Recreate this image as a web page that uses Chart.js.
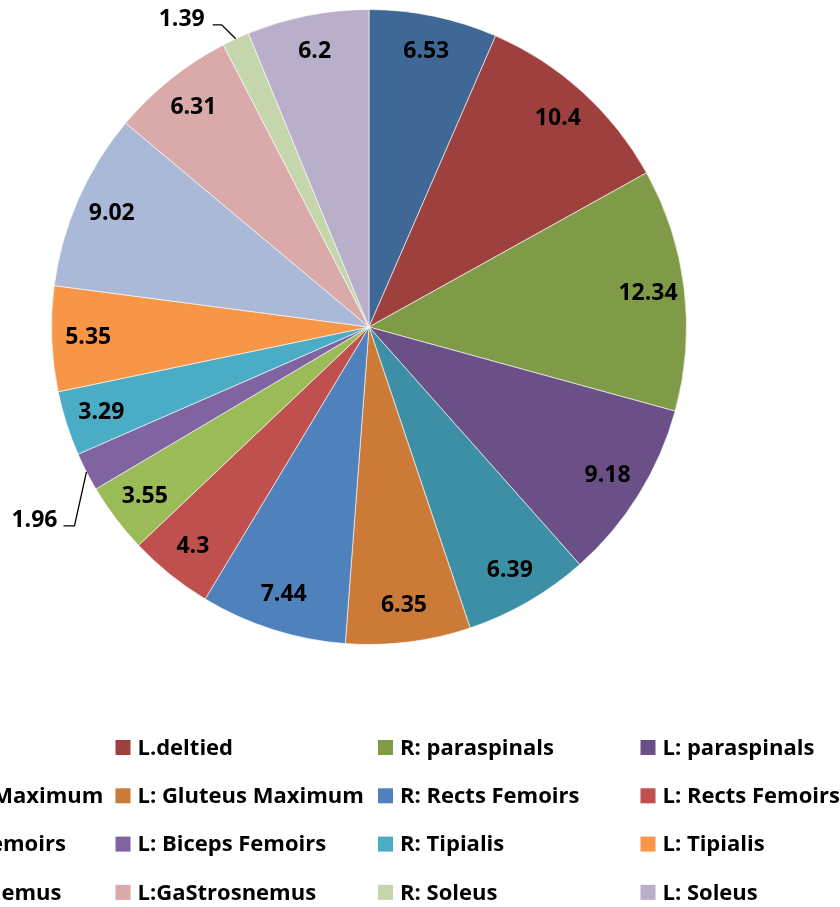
<!DOCTYPE html>
<html>
<head>
<meta charset="utf-8">
<script src="https://cdn.jsdelivr.net/npm/chart.js@4/dist/chart.umd.min.js"></script>
<style>
  html, body { margin: 0; padding: 0; background: #ffffff; overflow: hidden; }
  #wrap { position: relative; width: 840px; height: 907px; }
</style>
</head>
<body>
<div id="wrap"><canvas id="chart" width="840" height="907"></canvas></div>
<script>
// Muscle groups, clockwise from 12 o'clock
const muscles = [
  'R.deltied', 'L.deltied', 'R: paraspinals', 'L: paraspinals',
  'R: Gluteus Maximum', 'L: Gluteus Maximum', 'R: Rects Femoirs', 'L: Rects Femoirs',
  'R: Biceps Femoirs', 'L: Biceps Femoirs', 'R: Tipialis', 'L: Tipialis',
  'R: GaStrosnemus', 'L:GaStrosnemus', 'R: Soleus', 'L: Soleus'
];
const shares = [6.53, 10.4, 12.34, 9.18, 6.39, 6.35, 7.44, 4.3, 3.55, 1.96, 3.29, 5.35, 9.02, 6.31, 1.39, 6.2];
const sliceColors = [
  '#3F6897', '#9E413E', '#809B48', '#6A5087', '#3D8FA5', '#CC7A37',
  '#4F81BD', '#C0504D', '#9BBB59', '#8064A2', '#4BACC6', '#F79646',
  '#AAB9D7', '#D9AAA9', '#C6D6AC', '#B9AFCB'
];

const FONT = '"Open Sans", Lato, sans-serif';

// Leader-line geometry for the thin slices whose labels sit outside the pie
const outsideLabels = {
  9:  { elbowDx: -12, elbowDy: 54, seg: 11, gap: 6 },
  14: { elbowDx: -14, elbowDy: -14, seg: 9, gap: 8 }
};

const sliceLabels = {
  id: 'sliceLabels',
  afterDatasetsDraw(chart) {
    const ctx = chart.ctx;
    const meta = chart.getDatasetMeta(0);
    const values = chart.data.datasets[0].data;
    ctx.save();
    ctx.font = 'bold 23px ' + FONT;
    ctx.fillStyle = '#000000';
    meta.data.forEach((arc, i) => {
      const p = arc.getProps(['x', 'y', 'startAngle', 'endAngle', 'outerRadius'], true);
      const mid = (p.startAngle + p.endAngle) / 2;
      const text = String(values[i]);
      const out = outsideLabels[i];
      if (out) {
        const ex = p.x + Math.cos(mid) * p.outerRadius;
        const ey = p.y + Math.sin(mid) * p.outerRadius;
        const bx = ex + out.elbowDx;
        const by = ey + out.elbowDy;
        ctx.strokeStyle = '#000000';
        ctx.lineWidth = 1.3;
        ctx.beginPath();
        ctx.moveTo(ex, ey);
        ctx.lineTo(bx, by);
        ctx.lineTo(bx - out.seg, by);
        ctx.stroke();
        ctx.textAlign = 'right';
        ctx.textBaseline = 'alphabetic';
        ctx.fillText(text, bx - out.seg - out.gap, by + 1);
      } else {
        const r = p.outerRadius * 0.885;
        ctx.textAlign = 'center';
        ctx.textBaseline = 'middle';
        ctx.fillText(text, p.x + Math.cos(mid) * r, p.y + Math.sin(mid) * r);
      }
    });
    ctx.restore();
  }
};

// Four-column legend under the pie; the first column runs off the left edge
const gridLegend = {
  id: 'gridLegend',
  afterDraw(chart) {
    const ctx = chart.ctx;
    const labels = chart.data.labels;
    const colors = chart.data.datasets[0].backgroundColor;
    const cols = 4, colX0 = -147, colStep = 262.5, rowY0 = 747.5, rowStep = 48.3, box = 15;
    ctx.save();
    ctx.font = 'bold 22px ' + FONT;
    ctx.textAlign = 'left';
    ctx.textBaseline = 'middle';
    labels.forEach((name, i) => {
      const c = i % cols, r = Math.floor(i / cols);
      const x = colX0 + c * colStep;
      const y = rowY0 + r * rowStep;
      ctx.fillStyle = colors[i];
      ctx.fillRect(x, y - box / 2, box, box);
      ctx.fillStyle = '#000000';
      ctx.fillText(name, x + box + 7, y + 1);
    });
    ctx.restore();
  }
};

new Chart(document.getElementById('chart'), {
  type: 'pie',
  data: {
    labels: muscles,
    datasets: [{
      data: shares,
      backgroundColor: sliceColors,
      borderColor: 'rgba(255,255,255,0.6)',
      borderWidth: 1
    }]
  },
  options: {
    responsive: false,
    animation: false,
    events: [],
    layout: { padding: { left: 51, right: 153, top: 9, bottom: 262 } },
    plugins: {
      legend: { display: false },
      tooltip: { enabled: false }
    }
  },
  plugins: [sliceLabels, gridLegend]
});
</script>
</body>
</html>
